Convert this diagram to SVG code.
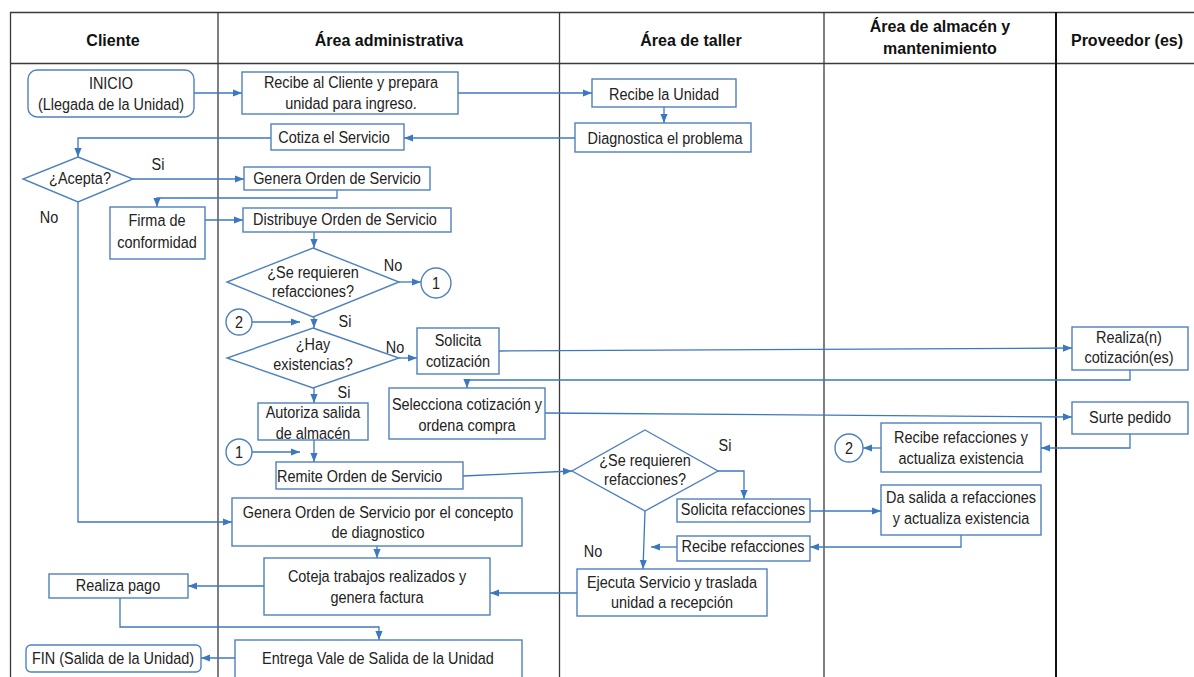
<svg xmlns="http://www.w3.org/2000/svg" width="1194" height="677" viewBox="0 0 1194 677">
<defs>
<style>
.bg{fill:#ffffff}
.grid{stroke:#3a3a3a;stroke-width:1.3;fill:none}
.gridb{stroke:#111;stroke-width:2;fill:none}
.hd{font-family:"Liberation Sans",Arial,sans-serif;font-weight:bold;font-size:16px;fill:#111;text-anchor:middle}
.box{fill:#fff;stroke:#4f81bd;stroke-width:1.4}
.t{font-family:"Liberation Sans",Arial,sans-serif;font-size:17px;fill:#222;text-anchor:middle;transform:scaleX(0.85);transform-box:fill-box;transform-origin:center}
.tl{font-family:"Liberation Sans",Arial,sans-serif;font-size:17px;fill:#222;transform:scaleX(0.85);transform-box:fill-box;transform-origin:left center}
.c{fill:none;stroke:#3c78c0;stroke-width:1.3;marker-end:url(#ah)}
</style>
<marker id="ah" viewBox="0 0 10 10" refX="10" refY="5" markerWidth="9" markerHeight="9" markerUnits="userSpaceOnUse" orient="auto">
<path d="M0,1 L10,5 L0,9 Z" fill="#3c78c0"/>
</marker>
</defs>
<rect class="bg" x="0" y="0" width="1194" height="677"/>
<g id="table">
<line class="grid" x1="10" y1="12.5" x2="1194" y2="12.5"/>
<line class="grid" x1="10" y1="63.5" x2="1194" y2="63.5"/>
<line class="grid" x1="10.5" y1="12" x2="10.5" y2="677"/>
<line class="grid" x1="218" y1="12" x2="218" y2="677"/>
<line class="grid" x1="559.5" y1="12" x2="559.5" y2="677"/>
<line class="grid" x1="824" y1="12" x2="824" y2="677"/>
<line class="gridb" x1="1056" y1="12" x2="1056" y2="677"/>
<text class="hd" x="113" y="46">Cliente</text>
<text class="hd" x="389" y="46">Área administrativa</text>
<text class="hd" x="691" y="46">Área de taller</text>
<text class="hd" x="940" y="32">Área de almacén y</text>
<text class="hd" x="940" y="54">mantenimiento</text>
<text class="hd" x="1127" y="46">Proveedor (es)</text>
</g>
<g id="connectors">
<path class="c" d="M194,93 H242"/>
<path class="c" d="M458,93 H592"/>
<path class="c" d="M664,107 V123"/>
<path class="c" d="M575,138 H404"/>
<path class="c" d="M271,138 H78 V157"/>
<path class="c" d="M133,179 H244"/>
<path class="c" d="M337,190 V198 H157 V207"/>
<path class="c" d="M205,220 H243"/>
<path class="c" d="M314,232 V248"/>
<path class="c" d="M399,282 H421"/>
<path class="c" d="M252,322 H300"/>
<path class="c" d="M314,317 V328"/>
<path class="c" d="M399,358 H417"/>
<path class="c" d="M314,388 V403"/>
<path class="c" d="M314,440 V462"/>
<path class="c" d="M252,452 H300"/>
<path class="c" d="M499,351 L1072,348"/>
<path class="c" d="M1130,370 V380 H467 V388"/>
<path class="c" d="M545,413 L1072,417"/>
<path class="c" d="M1130,434 V448 H1041"/>
<path class="c" d="M881,448 H863"/>
<path class="c" d="M463,476 L572,471"/>
<path class="c" d="M718,471 H744 V499"/>
<path class="c" d="M810,511 H881"/>
<path class="c" d="M961,535 V547 H810"/>
<path class="c" d="M677,547 H651"/>
<path class="c" d="M645,511 L643,569"/>
<path class="c" d="M577,593 H490"/>
<path class="c" d="M78,202 V522 H232"/>
<path class="c" d="M377,546 V558"/>
<path class="c" d="M264,586 H188"/>
<path class="c" d="M120,598 V627 H379 V640"/>
<path class="c" d="M235,658 H201"/>
</g>
<g id="n-inicio"><rect class="box" x="28" y="70" width="166" height="47" rx="9"/><text class="t" x="111" y="89">INICIO</text><text class="t" x="111" y="110">(Llegada de la Unidad)</text></g>
<g id="n-recibe-cliente"><rect class="box" x="242" y="72" width="216" height="42"/><text class="t" x="351" y="88">Recibe al Cliente y prepara</text><text class="t" x="351" y="109">unidad para ingreso.</text></g>
<g id="n-recibe-unidad"><rect class="box" x="592" y="79" width="144" height="28"/><text class="t" x="664" y="100">Recibe la Unidad</text></g>
<g id="n-diagnostica"><rect class="box" x="575" y="123" width="176" height="29"/><text class="t" x="665" y="144">Diagnostica el problema</text></g>
<g id="n-cotiza"><rect class="box" x="271" y="124" width="133" height="26"/><text class="t" x="334" y="143">Cotiza el Servicio</text></g>
<g id="n-acepta"><polygon class="box" points="78,157 133,179 78,202 23,179"/><text class="t" x="80" y="184">¿Acepta?</text></g>
<g id="n-genera"><rect class="box" x="244" y="167" width="186" height="23"/><text class="t" x="337" y="184">Genera Orden de Servicio</text></g>
<g id="n-firma"><rect class="box" x="110" y="207" width="95" height="52"/><text class="t" x="157" y="226">Firma de</text><text class="t" x="157" y="248">conformidad</text></g>
<g id="n-distribuye"><rect class="box" x="243" y="208" width="208" height="24"/><text class="t" x="345" y="225">Distribuye  Orden de Servicio</text></g>
<g id="n-requieren1"><polygon class="box" points="313,248 399,282 313,317 227,282"/><text class="t" x="313" y="278">¿Se requieren</text><text class="t" x="313" y="297">refacciones?</text></g>
<g id="n-c1a"><circle class="box" cx="436" cy="283" r="15"/><text class="t" x="436" y="289">1</text></g>
<g id="n-c2a"><circle class="box" cx="239" cy="322" r="13"/><text class="t" x="239" y="328">2</text></g>
<g id="n-hay"><polygon class="box" points="313,328 399,358 313,388 227,358"/><text class="t" x="313" y="350">¿Hay</text><text class="t" x="313" y="370">existencias?</text></g>
<g id="n-solicita-cot"><rect class="box" x="417" y="328" width="82" height="46"/><text class="t" x="458" y="346">Solicita</text><text class="t" x="458" y="367">cotización</text></g>
<g id="n-selecciona"><rect class="box" x="389" y="388" width="156" height="51"/><text class="t" x="467" y="410">Selecciona cotización y</text><text class="t" x="467" y="431">ordena compra</text></g>
<g id="n-autoriza"><rect class="box" x="258" y="403" width="110" height="37"/><text class="t" x="313" y="418">Autoriza salida</text><text class="t" x="313" y="439">de almacén</text></g>
<g id="n-c1b"><circle class="box" cx="239" cy="452" r="13"/><text class="t" x="239" y="458">1</text></g>
<g id="n-remite"><rect class="box" x="276" y="462" width="187" height="27"/><text class="tl" x="277" y="482">Remite  Orden de Servicio</text></g>
<g id="n-realizan"><rect class="box" x="1072" y="327" width="116" height="43"/><text class="t" x="1129" y="343">Realiza(n)</text><text class="t" x="1129" y="363">cotización(es)</text></g>
<g id="n-surte"><rect class="box" x="1072" y="402" width="116" height="32"/><text class="t" x="1130" y="423">Surte pedido</text></g>
<g id="n-recibe-refy"><rect class="box" x="881" y="423" width="160" height="49"/><text class="t" x="961" y="443">Recibe refacciones y</text><text class="t" x="961" y="464">actualiza existencia</text></g>
<g id="n-c2b"><circle class="box" cx="849" cy="448" r="14"/><text class="t" x="849" y="454">2</text></g>
<g id="n-da-salida"><rect class="box" x="881" y="485" width="160" height="50"/><text class="t" x="961" y="503">Da salida a refacciones</text><text class="t" x="961" y="524">y actualiza existencia</text></g>
<g id="n-requieren2"><polygon class="box" points="645,430 718,471 645,511 572,471"/><text class="t" x="645" y="466">¿Se requieren</text><text class="t" x="645" y="485">refacciones?</text></g>
<g id="n-solicita-ref"><rect class="box" x="677" y="499" width="133" height="23"/><text class="t" x="743" y="515">Solicita refacciones</text></g>
<g id="n-recibe-ref"><rect class="box" x="677" y="536" width="133" height="25"/><text class="t" x="743" y="552">Recibe refacciones</text></g>
<g id="n-ejecuta"><rect class="box" x="577" y="569" width="190" height="47"/><text class="t" x="672" y="588">Ejecuta Servicio y traslada</text><text class="t" x="672" y="608">unidad a recepción</text></g>
<g id="n-genera-diag"><rect class="box" x="232" y="498" width="290" height="48"/><text class="t" x="378" y="518">Genera Orden de Servicio por el concepto</text><text class="t" x="378" y="538">de diagnostico</text></g>
<g id="n-coteja"><rect class="box" x="264" y="558" width="226" height="57"/><text class="t" x="377" y="582">Coteja trabajos realizados y</text><text class="t" x="377" y="603">genera factura</text></g>
<g id="n-pago"><rect class="box" x="49" y="574" width="139" height="24"/><text class="t" x="118" y="591">Realiza pago</text></g>
<g id="n-entrega"><rect class="box" x="235" y="640" width="287" height="40"/><text class="t" x="378" y="664">Entrega Vale de Salida de la Unidad</text></g>
<g id="n-fin"><rect class="box" x="26" y="645" width="175" height="27" rx="5"/><text class="t" x="113" y="664">FIN (Salida de la Unidad)</text></g>
<g id="labels">
<text class="t" x="158" y="170">Si</text>
<text class="t" x="49" y="223">No</text>
<text class="t" x="393" y="271">No</text>
<text class="t" x="345" y="327">Si</text>
<text class="t" x="395" y="353">No</text>
<text class="t" x="344" y="398">Si</text>
<text class="t" x="725" y="451">Si</text>
<text class="t" x="593" y="557">No</text>
</g>
</svg>
